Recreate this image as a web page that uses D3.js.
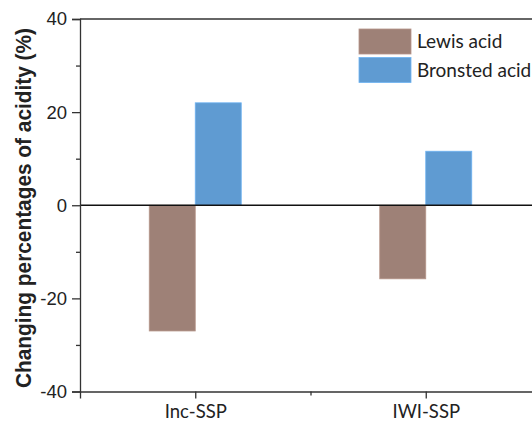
<!DOCTYPE html>
<html>
<head>
<meta charset="utf-8">
<script src="https://cdn.jsdelivr.net/npm/d3@7"></script>
<style>
  html, body { margin: 0; padding: 0; background: #fff; }
  svg { display: block; }
</style>
</head>
<body>
<svg id="chart" width="532" height="421"></svg>
<script>
// Samples and acid types
const categories = ["Inc-SSP", "IWI-SSP"];
const seriesNames = ["Lewis acid", "Bronsted acid"];
const lewisValues = [-27, -15.8];
const bronstedValues = [22, 11.6];
const yTicks = [-40, -20, 0, 20, 40];
const yMinorTicks = [-30, -10, 10, 30];
const colors = ["#9e8177", "#5f9bd2"];

const svg = d3.select("#chart");
const plotLeft = 80, plotTop = 19, plotBottom = 391.5, plotRight = 541;

// x positions: categories at 1 and 2, axis spanning 0.5..2.5
const x = d3.scaleLinear().domain([0.5, 2.5]).range([plotLeft, plotRight]);
const y = d3.scaleLinear().domain([-40, 40]).range([plotBottom, plotTop]);
const barW = 46;

const series = [lewisValues, bronstedValues];

// bars
series.forEach((vals, si) => {
  svg.append("g").selectAll("rect").data(vals).join("rect")
    .attr("x", (d, i) => x(i + 1) + (si === 0 ? -barW : 0))
    .attr("width", barW)
    .attr("y", d => y(Math.max(0, d)))
    .attr("height", d => Math.abs(y(d) - y(0)))
    .attr("fill", colors[si])
    .attr("stroke", d3.color(colors[si]).brighter(0.4))
    .attr("stroke-width", 0.8);
});

// zero line
svg.append("line")
  .attr("x1", plotLeft).attr("x2", plotRight)
  .attr("y1", y(0)).attr("y2", y(0))
  .attr("stroke", "#111").attr("stroke-width", 1.3);

// top frame line
svg.append("line")
  .attr("x1", plotLeft).attr("x2", plotRight)
  .attr("y1", plotTop).attr("y2", plotTop)
  .attr("stroke", "#333").attr("stroke-width", 1.3);

// y axis (plain hyphen for negatives)
const yAxis = d3.axisLeft(y).tickValues(yTicks).tickSize(8).tickPadding(5).tickFormat(d => String(d));
const gy = svg.append("g").attr("transform", `translate(${plotLeft},0)`).call(yAxis);
gy.select(".domain").attr("stroke", "#333").attr("stroke-width", 1.3);
gy.selectAll(".tick line").attr("stroke", "#333").attr("stroke-width", 1.3);
gy.selectAll("text").attr("font-family", "Liberation Sans, Arial, sans-serif").attr("font-size", 18.5).attr("fill", "#222");
const gym = svg.append("g").attr("transform", `translate(${plotLeft},0)`)
  .call(d3.axisLeft(y).tickValues(yMinorTicks).tickSize(4).tickFormat(""));
gym.select(".domain").remove();
gym.selectAll(".tick line").attr("stroke", "#333").attr("stroke-width", 1.3);

// x axis
const xAxis = d3.axisBottom(x).tickValues([1, 2]).tickSize(7).tickPadding(6).tickFormat((d, i) => categories[i]);
const gx = svg.append("g").attr("transform", `translate(0,${plotBottom})`).call(xAxis);
gx.select(".domain").attr("stroke", "#333").attr("stroke-width", 1.3);
gx.selectAll(".tick line").attr("stroke", "#333").attr("stroke-width", 1.3);
gx.selectAll("text").attr("font-family", "Lato, 'Open Sans', sans-serif").attr("font-size", 18.5).attr("fill", "#222");
const gxm = svg.append("g").attr("transform", `translate(0,${plotBottom})`)
  .call(d3.axisBottom(x).tickValues([1.5]).tickSize(4).tickFormat(""));
gxm.select(".domain").remove();
gxm.selectAll(".tick line").attr("stroke", "#333").attr("stroke-width", 1.3);

// y axis title
svg.append("text")
  .attr("transform", `translate(31,208) rotate(-90)`)
  .attr("text-anchor", "middle")
  .attr("font-family", "Liberation Sans, Arial, sans-serif")
  .attr("font-weight", "bold")
  .attr("font-size", 21.5)
  .attr("textLength", 360)
  .attr("lengthAdjust", "spacingAndGlyphs")
  .attr("fill", "#222")
  .text("Changing percentages of acidity (%)");

// legend
const legend = svg.append("g");
seriesNames.forEach((name, i) => {
  const ly = 29 + i * 28.5;
  legend.append("rect")
    .attr("x", 359).attr("y", ly).attr("width", 52).attr("height", 25)
    .attr("fill", colors[i])
    .attr("stroke", d3.color(colors[i]).brighter(0.4)).attr("stroke-width", 0.8);
  legend.append("text")
    .attr("x", 417).attr("y", ly + 19)
    .attr("font-family", "Lato, 'Open Sans', sans-serif")
    .attr("font-size", 19)
    .attr("fill", "#222")
    .text(name);
});
</script>
</body>
</html>
